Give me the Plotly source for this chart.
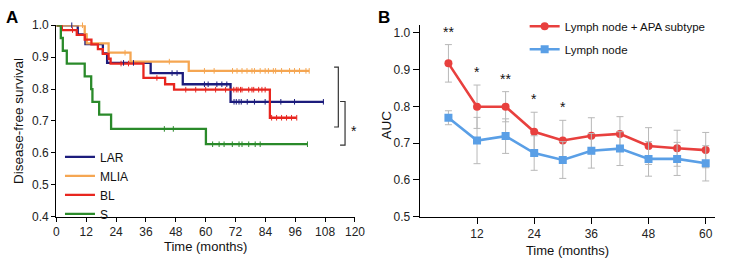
import numpy as np
import plotly.graph_objects as go

# ---------------- Panel A: Kaplan-Meier (disease-free survival) ----------------
groups = ["LAR", "MLIA", "BL", "S"]
colors_a = {"LAR": "#1c1c7c", "MLIA": "#f5a652", "BL": "#e8261f", "S": "#2a8a2a"}

lar_t = [0, 8.6, 11.7, 18.7, 20.4, 37.9, 50.8, 70.0, 107.5]
lar_s = [1.0, 0.971, 0.941, 0.912, 0.882, 0.850, 0.815, 0.760, 0.760]
lar_c = [6.2, 27.0, 31.0, 46.5, 48.5, 59.5, 61.0, 64.5, 66.5, 68.5, 71.4, 72.3, 73.4,
         74.3, 76.7, 79.6, 83.9, 90.2, 95.7, 107.3]

mlia_t = [0, 11.4, 12.2, 21.0, 29.8, 53.2, 101.6]
mlia_s = [1.0, 0.971, 0.943, 0.914, 0.886, 0.857, 0.857]
mlia_c = [10.5, 27.6, 45.4, 59.5, 63.4, 70.8, 72.6, 74.6, 76.6, 78.6, 79.6, 81.9, 83.9,
          85.2, 87.2, 88.1, 90.5, 93.7, 95.7, 97.7, 100.3, 101.6]

bl_t = [0, 2.2, 8.2, 11.4, 14.1, 16.7, 18.7, 21.0, 21.8, 35.0, 43.7, 47.3, 85.8, 96.6]
bl_s = [1.0, 0.985, 0.970, 0.955, 0.940, 0.925, 0.910, 0.895, 0.880, 0.835, 0.815,
        0.798, 0.710, 0.710]
bl_c = [6.5, 26.0, 29.0, 40.4, 52.0, 56.0, 60.0, 64.0, 68.0, 71.3, 72.3, 73.0, 74.0,
        74.6, 77.3, 78.6, 79.3, 81.3, 82.6, 83.9, 86.5, 88.5, 90.5, 92.5, 94.5, 96.6]

s_t = [0, 1.8, 2.6, 4.2, 11.4, 14.0, 14.5, 17.2, 22.0, 60.1, 100.9]
s_s = [1.0, 0.96, 0.92, 0.88, 0.84, 0.80, 0.76, 0.72, 0.675, 0.627, 0.627]
s_c = [43.4, 47.0, 62.8, 65.4, 67.4, 70.7, 73.4, 74.6, 77.3, 79.9, 81.9, 100.9]

km = {"LAR": (lar_t, lar_s, lar_c), "MLIA": (mlia_t, mlia_s, mlia_c),
      "BL": (bl_t, bl_s, bl_c), "S": (s_t, s_s, s_c)}

a_xticks = list(range(0, 121, 12))
a_yticks = [0.4, 0.5, 0.6, 0.7, 0.8, 0.9, 1.0]

# ---------------- Panel B: time-dependent AUC ----------------
months = [6, 12, 18, 24, 30, 36, 42, 48, 54, 60]
auc_combo = [0.917, 0.799, 0.799, 0.731, 0.707, 0.720, 0.725, 0.692, 0.686, 0.681]
err_combo = [0.051, 0.059, 0.041, 0.053, 0.055, 0.049, 0.047, 0.050, 0.049, 0.048]
auc_ln = [0.769, 0.707, 0.719, 0.673, 0.654, 0.679, 0.685, 0.657, 0.657, 0.645]
err_ln = [0.019, 0.063, 0.047, 0.047, 0.050, 0.047, 0.046, 0.047, 0.045, 0.048]
sig = ["**", "*", "**", "*", "*", "", "", "", "", ""]
b_xticks = [12, 24, 36, 48, 60]
b_yticks = [0.5, 0.6, 0.7, 0.8, 0.9, 1.0]

FONT = "Liberation Sans, Arial, sans-serif"
W, H = 739, 261

fig = go.Figure()

for g in groups:
    t, s, c = km[g]
    fig.add_trace(go.Scatter(x=t, y=s, mode="lines", line=dict(color=colors_a[g], width=2.3, shape="hv"),
                             name=g, legend="legend", xaxis="x", yaxis="y", cliponaxis=False))
for g in groups:
    t, s, c = km[g]
    idx = np.searchsorted(np.array(t), np.array(c), side="right") - 1
    cy = np.array(s)[idx]
    fig.add_trace(go.Scatter(x=c, y=cy, mode="markers", showlegend=False,
                             marker=dict(symbol="line-ns", size=4, line=dict(color=colors_a[g], width=1)),
                             xaxis="x", yaxis="y", cliponaxis=False, hoverinfo="skip"))

red_b, blue_b = "#e8403e", "#5a9fe6"
fig.add_trace(go.Scatter(x=months, y=auc_combo, mode="lines+markers", name="Lymph node + APA subtype",
                         line=dict(color=red_b, width=2.6), marker=dict(symbol="circle", size=8, color=red_b),
                         error_y=dict(type="data", array=err_combo, color="#b8b8b8", thickness=1, width=3.5),
                         legend="legend2", legendgroup="g1", xaxis="x2", yaxis="y2"))
fig.add_trace(go.Scatter(x=months, y=auc_ln, mode="lines+markers", name="Lymph node",
                         line=dict(color=blue_b, width=2.6), marker=dict(symbol="square", size=8, color=blue_b),
                         error_y=dict(type="data", array=err_ln, color="#b8b8b8", thickness=1, width=3.5),
                         legend="legend2", legendgroup="g2", xaxis="x2", yaxis="y2"))

annotations = []
for m, v, e, sg in zip(months, auc_combo, err_combo, sig):
    if sg:
        annotations.append(dict(x=m, y=v + e, xref="x2", yref="y2", text=sg, showarrow=False,
                                yanchor="bottom", yshift=3, font=dict(size=14, color="#111", family=FONT)))
annotations.append(dict(x=119.5, y=0.68, xref="x", yref="y", text="*", showarrow=False,
                        yshift=-4, font=dict(size=14, color="#111", family=FONT)))
annotations.append(dict(x=9 / W, y=1 - 11 / H, xref="paper", yref="paper", text="<b>A</b>", showarrow=False,
                        xanchor="center", yanchor="middle", font=dict(size=17, color="#000", family=FONT)))
annotations.append(dict(x=387.5 / W, y=1 - 11 / H, xref="paper", yref="paper", text="<b>B</b>", showarrow=False,
                        xanchor="center", yanchor="middle", font=dict(size=17, color="#000", family=FONT)))
# y-axis title of panel B
annotations.append(dict(x=390 / W, y=1 - 125 / H, xref="paper", yref="paper", text="AUC", showarrow=False,
                        textangle=-90, xanchor="center", yanchor="middle",
                        font=dict(size=13.5, color="#111", family=FONT)))

shapes = [
    dict(type="path", xref="x", yref="y", path="M 111.6 0.869 L 113.3 0.869 L 113.3 0.681 L 111.6 0.681",
         line=dict(color="#333", width=1.2)),
    dict(type="path", xref="x", yref="y", path="M 114.0 0.761 L 116.0 0.761 L 116.0 0.624 L 114.0 0.624",
         line=dict(color="#333", width=1.2)),
]

axis_common = dict(showline=True, linecolor="#000", linewidth=1.3, ticks="outside", tickwidth=1.3,
                   tickcolor="#000", showgrid=False, zeroline=False,
                   tickfont=dict(size=12, color="#222", family=FONT))

ydom = [1 - 221.5 / H, 1 - 19.3 / H]
fig.update_layout(
    width=W, height=H, margin=dict(l=0, r=0, t=0, b=0), autosize=False,
    paper_bgcolor="white", plot_bgcolor="white",
    font=dict(family=FONT, color="#111"),
    xaxis=dict(domain=[54.3 / W, 358.3 / W], range=[0, 120], tickvals=a_xticks, ticklen=4,
               title=dict(text="Time (months)", font=dict(size=13), standoff=2), anchor="y", **axis_common),
    yaxis=dict(domain=ydom, range=[0.4, 1.0], tickvals=a_yticks, tickformat=".1f", ticklen=4,
               title=dict(text="Disease-free survival", font=dict(size=13.5), standoff=5), anchor="x", **axis_common),
    xaxis2=dict(domain=[424.3 / W, 725 / W], range=[0, 62], tickvals=b_xticks, ticklen=6,
                title=dict(text="Time (months)", font=dict(size=13), standoff=5), anchor="y2", **axis_common),
    yaxis2=dict(domain=ydom, range=[0.5, 1.0206], tickvals=b_yticks, tickformat=".1f", ticklen=6,
                anchor="x2", **axis_common),
    legend=dict(x=58 / W, y=1 - 143 / H, xanchor="left", yanchor="top", bgcolor="rgba(0,0,0,0)",
                font=dict(size=12, family=FONT, color="#111"), itemwidth=30, tracegroupgap=0),
    legend2=dict(x=531 / W, y=1 - 5 / H, xanchor="left", yanchor="top", bgcolor="rgba(0,0,0,0)",
                 font=dict(size=11.5, family=FONT, color="#111"), itemwidth=30,
                 traceorder="grouped", tracegroupgap=4),
    annotations=annotations, shapes=shapes,
)

fig.write_html("out.html", config={"displayModeBar": False},
               post_script="document.body.style.margin='0px';")
